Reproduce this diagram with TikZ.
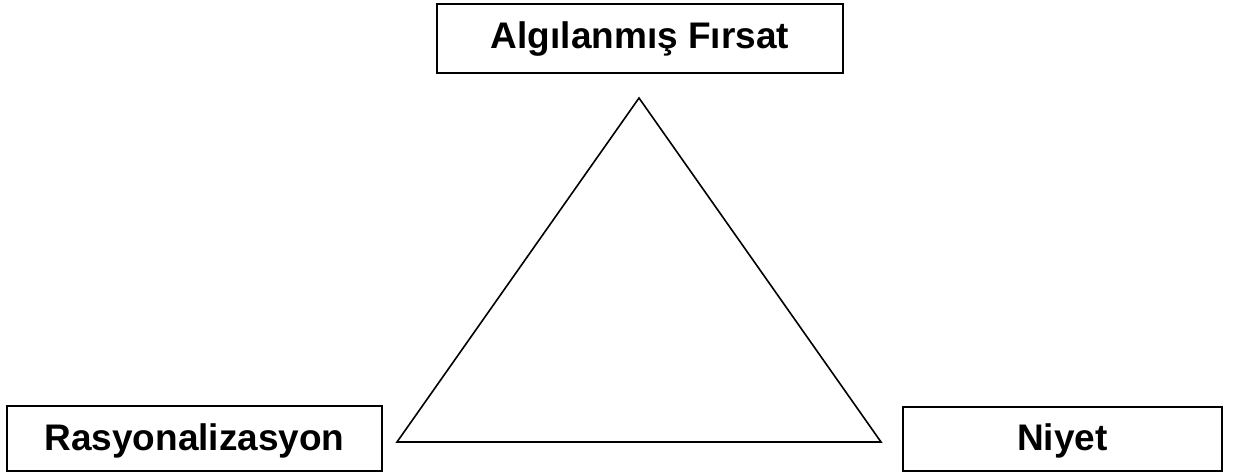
\documentclass[tikz,border=0pt]{standalone}
\usepackage{fontspec}
\setmainfont{Liberation Sans}
\begin{document}
\begin{tikzpicture}[x=1pt,y=-1pt,
  labelbox/.style={draw=black,line width=2pt,inner sep=0pt,text height=26.5pt,font=\fontsize{37}{42}\selectfont\bfseries},
  tri/.style={draw=black,line width=1.6pt,line join=miter}]
\useasboundingbox (0,0) rectangle (1236,473);
\node[labelbox,minimum width=406pt,minimum height=69pt,text depth=5.5pt] (top) at (640,38.5) {Algılanmış Fırsat};
\node[labelbox,minimum width=375pt,minimum height=65pt,text depth=3.5pt] (left) at (194.5,438.5) {Rasyonalizasyon};
\node[labelbox,minimum width=319pt,minimum height=64pt,text depth=4.5pt] (right) at (1062.5,439) {Niyet};
\coordinate (apex) at (639,98);
\coordinate (bl) at (397,442);
\coordinate (br) at (881,442);
\draw[tri] (apex) -- (bl) -- (br) -- cycle;
\end{tikzpicture}
\end{document}
